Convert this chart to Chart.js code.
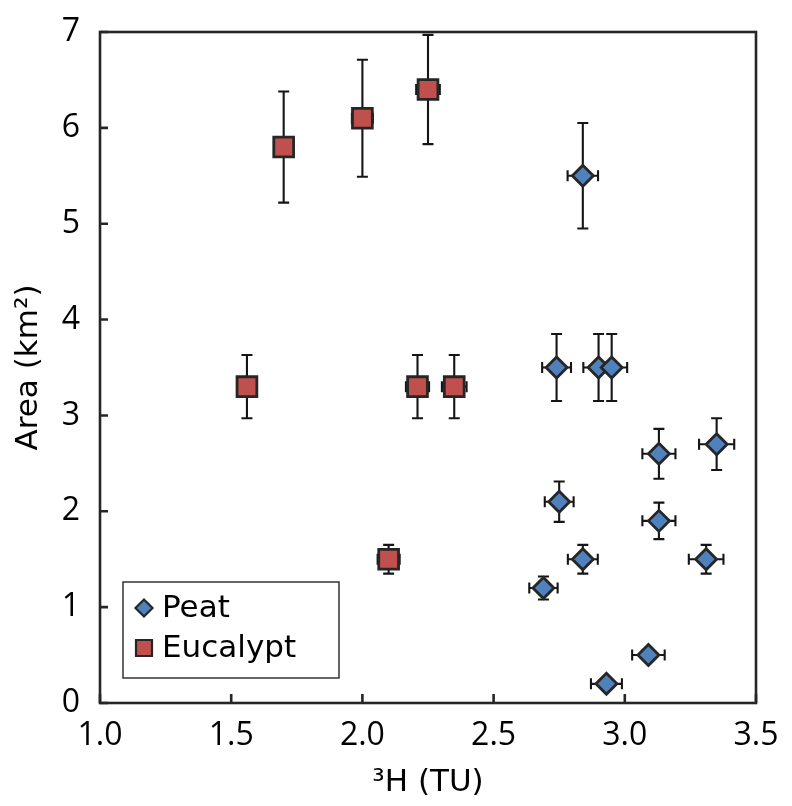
<!DOCTYPE html>
<html>
<head>
<meta charset="utf-8">
<script src="https://cdn.jsdelivr.net/npm/chart.js@4.4.0/dist/chart.umd.min.js"></script>
<style>
  html, body { margin: 0; padding: 0; background: #fff; }
  #wrap { width: 792px; height: 806px; }
</style>
</head>
<body>
<div id="wrap"><canvas id="areaChart" width="792" height="806"></canvas></div>
<script>
// Peat sites: tritium (TU) vs catchment area (km2), with errors
var peatX    = [2.84, 2.74, 2.90, 2.95, 3.13, 3.35, 2.75, 3.13, 2.84, 3.31, 2.69, 3.09, 2.93];
var peatY    = [5.5, 3.5, 3.5, 3.5, 2.6, 2.7, 2.1, 1.9, 1.5, 1.5, 1.2, 0.5, 0.2];
var peatXErr = [0.058, 0.055, 0.058, 0.059, 0.063, 0.067, 0.055, 0.063, 0.057, 0.066, 0.054, 0.062, 0.059];
var peatYErr = [0.55, 0.35, 0.35, 0.35, 0.26, 0.27, 0.21, 0.19, 0.15, 0.15, 0.12, 0.05, 0.02];

// Eucalypt sites
var eucX    = [1.70, 2.00, 2.25, 1.56, 2.21, 2.35, 2.10];
var eucY    = [5.8, 6.1, 6.4, 3.3, 3.3, 3.3, 1.5];
var eucXErr = [0.034, 0.040, 0.045, 0.031, 0.044, 0.047, 0.042];
var eucYErr = [0.58, 0.61, 0.57, 0.33, 0.33, 0.33, 0.15];

var seriesNames = ['Peat', 'Eucalypt'];
var xTitle = '\u00b3H (TU)';
var yTitle = 'Area (km\u00b2)';

var FONT = "'Open Sans', sans-serif";
var TFONT = "'DejaVu Sans', sans-serif";
var EDGE = '#262626';

function toPoints(xs, ys, xe, ye) {
    return xs.map(function (x, i) {
        return { x: x, y: ys[i], xErr: xe[i], yErr: ye[i] };
    });
}

// error bars drawn under the markers
var errorBars = {
    id: 'errorBars',
    beforeDatasetsDraw: function (chart) {
        var ctx = chart.ctx, sx = chart.scales.x, sy = chart.scales.y;
        ctx.save();
        ctx.strokeStyle = '#151515';
        ctx.lineWidth = 2.1;
        chart.data.datasets.forEach(function (ds) {
            ds.data.forEach(function (p) {
                var cx = sx.getPixelForValue(p.x), cy = sy.getPixelForValue(p.y);
                var y1 = sy.getPixelForValue(p.y + p.yErr), y2 = sy.getPixelForValue(p.y - p.yErr);
                var x1 = sx.getPixelForValue(p.x - p.xErr), x2 = sx.getPixelForValue(p.x + p.xErr);
                ctx.beginPath();
                ctx.moveTo(cx, y1); ctx.lineTo(cx, y2);
                ctx.moveTo(cx - 5.5, y1); ctx.lineTo(cx + 5.5, y1);
                ctx.moveTo(cx - 5.5, y2); ctx.lineTo(cx + 5.5, y2);
                ctx.moveTo(x1, cy); ctx.lineTo(x2, cy);
                ctx.moveTo(x1, cy - 5.5); ctx.lineTo(x1, cy + 5.5);
                ctx.moveTo(x2, cy - 5.5); ctx.lineTo(x2, cy + 5.5);
                ctx.stroke();
            });
        });
        ctx.restore();
    }
};

// frame around plot area plus inward tick marks
var frame = {
    id: 'frame',
    beforeDatasetsDraw: function (chart) {
        var ctx = chart.ctx, a = chart.chartArea, sx = chart.scales.x, sy = chart.scales.y;
        ctx.save();
        ctx.strokeStyle = EDGE;
        ctx.lineWidth = 2.6;
        ctx.strokeRect(a.left, a.top, a.right - a.left, a.bottom - a.top);
        ctx.beginPath();
        sy.ticks.forEach(function (t) {
            var py = sy.getPixelForValue(t.value);
            ctx.moveTo(a.left, py); ctx.lineTo(a.left + 8, py);
        });
        sx.ticks.forEach(function (t) {
            var px = sx.getPixelForValue(t.value);
            ctx.moveTo(px, a.bottom); ctx.lineTo(px, a.bottom - 9);
        });
        ctx.stroke();
        ctx.restore();
    }
};

// boxed legend in the lower left of the plot
var boxLegend = {
    id: 'boxLegend',
    afterDraw: function (chart) {
        var ctx = chart.ctx;
        ctx.save();
        ctx.fillStyle = '#fff';
        ctx.fillRect(123, 582, 216, 96);
        ctx.strokeStyle = '#333';
        ctx.lineWidth = 1.5;
        ctx.strokeRect(123, 582, 216, 96);
        chart.data.datasets.forEach(function (ds, i) {
            var cy = i === 0 ? 608 : 648;
            ctx.fillStyle = ds.backgroundColor;
            ctx.strokeStyle = EDGE;
            ctx.lineWidth = 2.2;
            ctx.beginPath();
            if (i === 0) {
                ctx.moveTo(144 - 8.5, cy); ctx.lineTo(144, cy - 8.5);
                ctx.lineTo(144 + 8.5, cy); ctx.lineTo(144, cy + 8.5);
                ctx.closePath();
            } else {
                ctx.rect(136, cy - 8, 16, 16);
            }
            ctx.fill();
            ctx.stroke();
            ctx.fillStyle = '#000';
            ctx.font = '31px ' + TFONT;
            ctx.textBaseline = 'middle';
            ctx.textAlign = 'left';
            ctx.fillText(ds.label, 162, cy + 1);
        });
        ctx.restore();
    }
};

var config = {
    type: 'scatter',
    data: {
        datasets: [{
            label: seriesNames[0],
            data: toPoints(peatX, peatY, peatXErr, peatYErr),
            pointStyle: 'rectRot',
            pointRadius: 10.5,
            pointHoverRadius: 10.5,
            backgroundColor: '#4F81BD',
            borderColor: EDGE,
            borderWidth: 2.8
        }, {
            label: seriesNames[1],
            data: toPoints(eucX, eucY, eucXErr, eucYErr),
            pointStyle: 'rect',
            pointRadius: 14,
            pointHoverRadius: 14,
            backgroundColor: '#C0504D',
            borderColor: EDGE,
            borderWidth: 2.8
        }]
    },
    options: {
        responsive: false,
        animation: false,
        devicePixelRatio: 1,
        layout: {
            padding: { top: 32, right: 36, left: 0, bottom: 0 }
        },
        plugins: {
            legend: { display: false },
            tooltip: { enabled: false }
        },
        scales: {
            x: {
                type: 'linear',
                min: 1,
                max: 3.5,
                grid: { display: false, drawTicks: false },
                border: { display: false },
                ticks: {
                    stepSize: 0.5,
                    padding: 14,
                    color: '#000',
                    font: { family: FONT, size: 32 },
                    callback: function (v) { return v.toFixed(1); }
                },
                title: {
                    display: true,
                    text: xTitle,
                    color: '#000',
                    font: { family: TFONT, size: 31 },
                    padding: { top: 0, bottom: 4 }
                },
                afterFit: function (s) {
                    s.height = 103;
                    s.paddingLeft = 0;
                    s.paddingRight = 0;
                }
            },
            y: {
                type: 'linear',
                min: 0,
                max: 7,
                grid: { display: false, drawTicks: false },
                border: { display: false },
                ticks: {
                    stepSize: 1,
                    padding: 20,
                    color: '#000',
                    font: { family: FONT, size: 32 }
                },
                title: {
                    display: true,
                    text: yTitle,
                    color: '#000',
                    font: { family: TFONT, size: 31 },
                    padding: { top: 10, bottom: 0 }
                },
                afterFit: function (s) {
                    s.width = 100;
                    s.paddingTop = 0;
                    s.paddingBottom = 0;
                }
            }
        }
    },
    plugins: [frame, errorBars, boxLegend]
};

var ctx = document.getElementById('areaChart').getContext('2d');
window.areaChart = new Chart(ctx, config);
</script>
</body>
</html>
